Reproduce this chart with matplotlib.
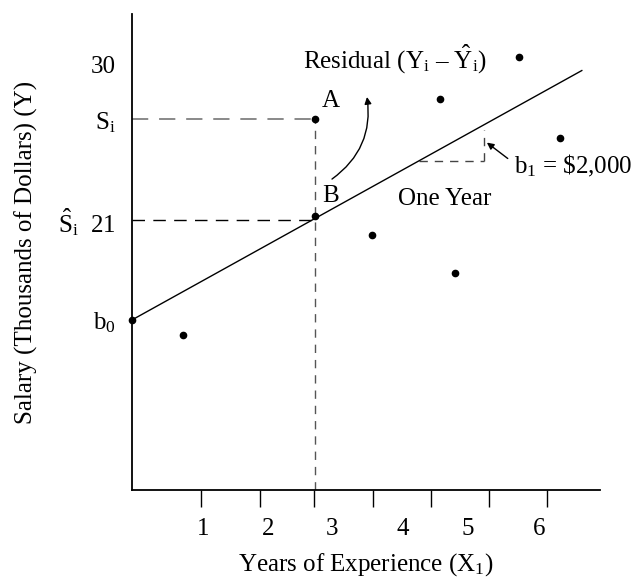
import matplotlib.pyplot as plt

plt.rcParams['font.family'] = ['Liberation Serif', 'DejaVu Serif']
plt.rcParams['mathtext.fontset'] = 'custom'
plt.rcParams['mathtext.rm'] = 'Liberation Serif'
plt.rcParams['mathtext.it'] = 'Liberation Serif:italic'

# observations (years of experience, salary in $1000)
years = [0.76, 3.56, 4.79, 4.58, 5.74, 6.36]
salary = [14.3, 20.1, 17.9, 28.0, 30.4, 25.7]

# point i and its fitted value
xi = 2.72
si = 26.8
si_hat = 21.2

# fitted line
b0 = 15.2
b1 = 2.16
line_x = [0, 6.68]

# slope triangle (one year)
tri_x = [4.26, 5.22]

x_labels = ['1', '2', '3', '4', '5', '6']
x_label_pos = [1.05, 2.02, 2.97, 4.02, 4.99, 6.05]
x_tick_pos = [1.02, 1.90, 2.70, 3.58, 4.44, 5.30, 6.16]
y_tick_pos = [30, si, 21, b0]
y_labels = ['30', r'S$_\mathrm{i}$', r'$\hat{\mathrm{S}}_\mathrm{i}$  21', r'b$_0$']

fig = plt.figure(figsize=(6.42, 5.82), dpi=100)
ax = fig.add_axes([132 / 642, 1 - 490 / 582, 468 / 642, 476 / 582])
ax.set_xlim(0, 6.95)
ax.set_ylim(5.36, 32.9)

for s in ['top', 'right']:
    ax.spines[s].set_visible(False)
for s in ['left', 'bottom']:
    ax.spines[s].set_linewidth(1.3)

# regression line
ax.plot(line_x, [b0 + b1 * x for x in line_x], color='black', lw=1.0, zorder=3)

# dashed guides
ax.plot([0, xi], [si, si], color='#808080', lw=1.3, dashes=(9, 6))
ax.plot([0, xi], [21, 21], color='black', lw=1.0, dashes=(9, 6))
ax.plot([xi, xi], [5.36, si], color='#555555', lw=1.0, dashes=(6, 5))

# one year triangle
y_tri = b0 + b1 * tri_x[0]
ax.plot(tri_x, [y_tri, y_tri], color='#444444', lw=1.0, dashes=(6, 5))
ax.plot([tri_x[1], tri_x[1]], [y_tri, b0 + b1 * tri_x[1] - 0.3], color='#444444', lw=1.0, dashes=(6, 5))

# points
ax.plot(years, salary, 'o', color='black', ms=4.5, zorder=4)
ax.plot([xi, xi, 0], [si, si_hat, b0], 'o', color='black', ms=4.5, zorder=4, clip_on=False)

fs = 18
ax.text(2.82, 27.87, 'A', fontsize=fs, va='center')
ax.text(2.82, 22.39, 'B', fontsize=fs, va='center')
ax.text(3.95, 22.2, 'One Year', fontsize=fs, va='center')
ax.text(2.54, 30.35, r'Residual (Y$_\mathrm{i}$ – $\hat{\mathrm{Y}}_\mathrm{i}$)', fontsize=fs, va='center')
ax.text(5.68, 24.1, r'b$_1$ = \$2,000', fontsize=fs, va='center')

ax.annotate('', xy=(3.49, 28.1), xytext=(2.97, 23.35),
            arrowprops=dict(arrowstyle='-|>', color='black', lw=1.0,
                            connectionstyle='arc3,rad=0.3', shrinkA=0, shrinkB=0,
                            mutation_scale=10))
ax.annotate('', xy=(5.27, 25.46), xytext=(5.58, 24.54),
            arrowprops=dict(arrowstyle='-|>', color='black', lw=1.0,
                            shrinkA=0, shrinkB=0, mutation_scale=10))

# axes ticks
ax.set_xticks(x_tick_pos, minor=True)
ax.tick_params(axis='x', which='minor', length=12, width=1.0, direction='out')
ax.set_xticks(x_label_pos, x_labels)
ax.tick_params(axis='x', which='major', length=0, pad=20, labelsize=fs)
ax.set_yticks(y_tick_pos, y_labels)
ax.tick_params(axis='y', length=0, pad=12, labelsize=fs)

ax.set_xlabel(r'Years of Experience (X$_1$)', fontsize=fs, labelpad=8)
ax.set_ylabel('Salary (Thousands of Dollars) (Y)', fontsize=fs, labelpad=14)

fig.savefig('out.png', dpi=100)
